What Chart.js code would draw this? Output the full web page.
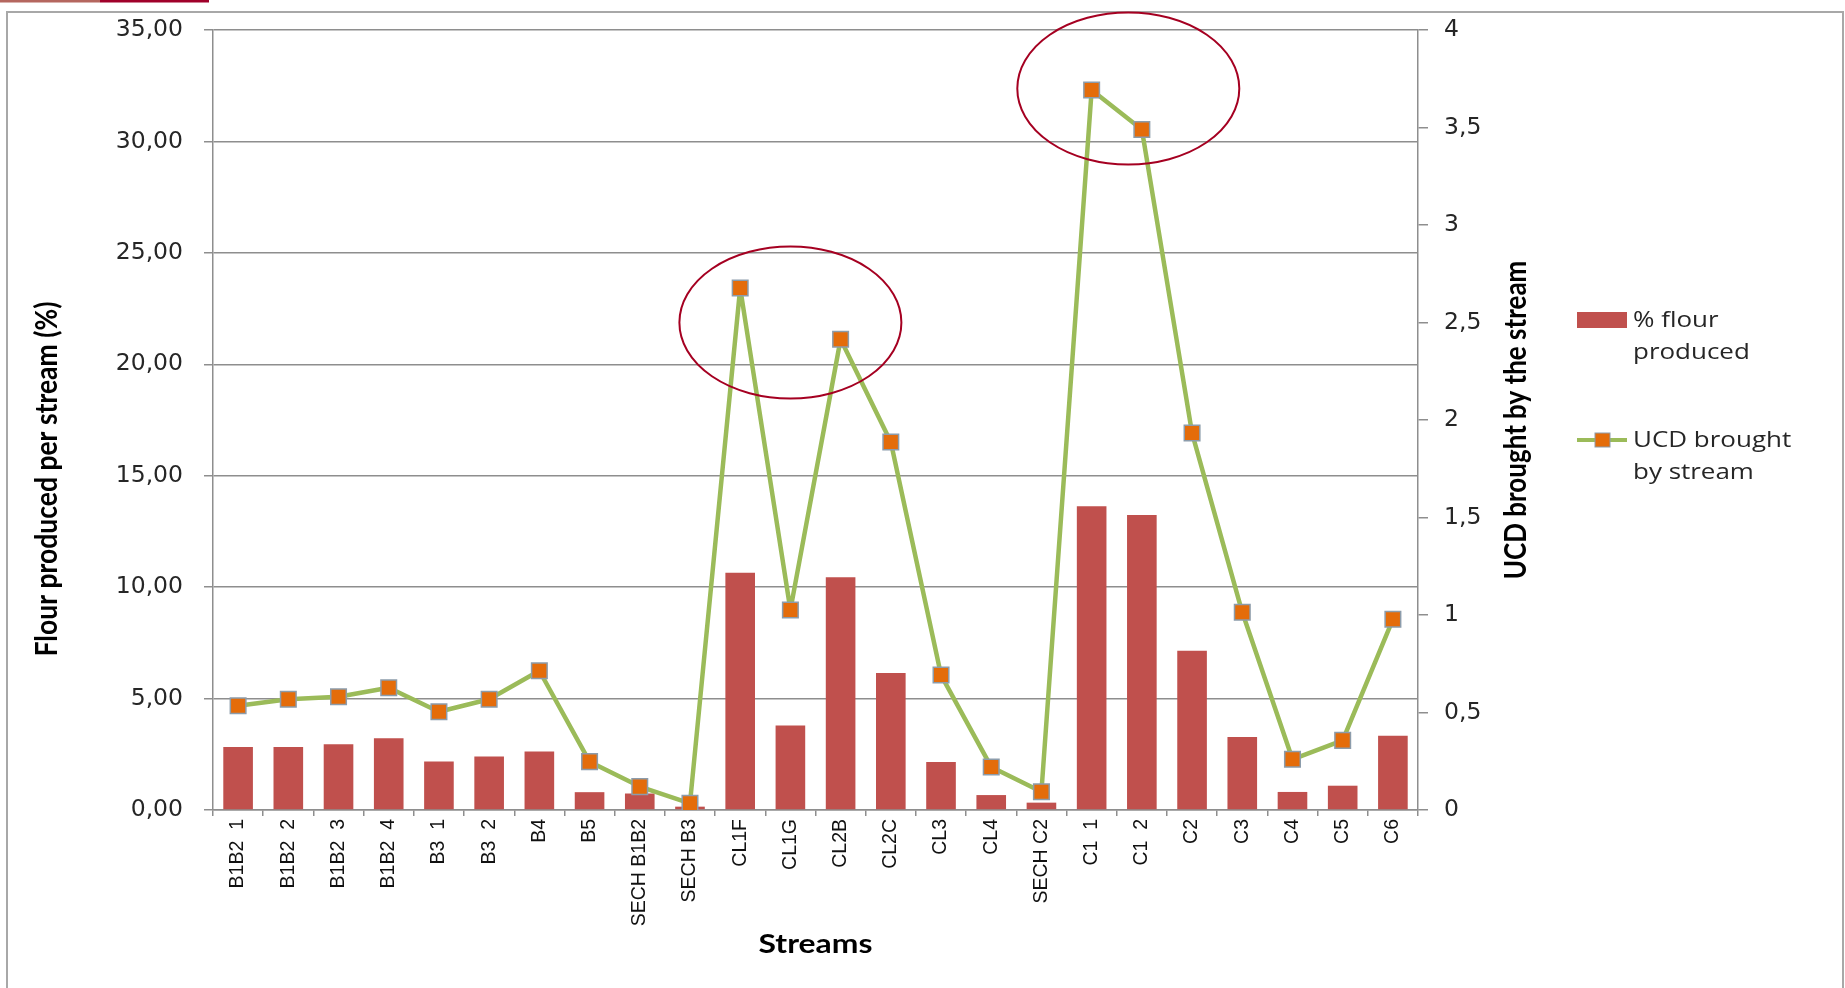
<!DOCTYPE html>
<html>
<head>
<meta charset="utf-8">
<title>Flour and UCD per stream</title>
<script src="https://cdn.jsdelivr.net/npm/chart.js@4.4.1/dist/chart.umd.min.js"></script>
<style>
  html, body { margin: 0; padding: 0; background: #ffffff; }
  canvas { display: block; }
</style>
</head>
<body>
<canvas id="chart" width="1845" height="988"></canvas>
<script>
// Mill streams along the x axis
const streams = [
  'B1B2  1', 'B1B2  2', 'B1B2  3', 'B1B2  4', 'B3  1', 'B3  2', 'B4', 'B5',
  'SECH B1B2', 'SECH B3', 'CL1F', 'CL1G', 'CL2B', 'CL2C', 'CL3', 'CL4',
  'SECH C2', 'C1  1', 'C1  2', 'C2', 'C3', 'C4', 'C5', 'C6'
];

// Share of the total flour produced by each stream (%), left axis
const flourProduced = [
  2.83, 2.83, 2.95, 3.22, 2.18, 2.40, 2.62, 0.80,
  0.74, 0.15, 10.65, 3.79, 10.44, 6.15, 2.15, 0.67,
  0.33, 13.63, 13.24, 7.15, 3.28, 0.81, 1.09, 3.33
];

// UCD brought by each stream, right axis
const ucdBrought = [
  0.535, 0.568, 0.581, 0.627, 0.504, 0.568, 0.714, 0.248,
  0.120, 0.034, 2.677, 1.026, 2.414, 1.887, 0.692, 0.221,
  0.094, 3.692, 3.490, 1.933, 1.014, 0.260, 0.357, 0.978
];

// Tick labels of both value axes
const flourTickLabels = ['0,00', '5,00', '10,00', '15,00', '20,00', '25,00', '30,00', '35,00'];
const ucdTickLabels = ['0', '0,5', '1', '1,5', '2', '2,5', '3', '3,5', '4'];

// Series names and axis titles
const flourLabel = '% flour\nproduced';
const ucdLabel = 'UCD brought\nby stream';
const flourAxisTitle = 'Flour produced per stream (%)';
const ucdAxisTitle = 'UCD brought by the stream';
const streamAxisTitle = 'Streams';

// Highlight rings: centred on a stream index (fractional = between streams) and a UCD value
const highlightCentres = [11, 17.73];
const highlightUcd = [2.5, 3.7];

const BAR_RED = '#C0504D';
const LINE_GREEN = '#9BBB59';
const MARKER_ORANGE = '#E46C0A';
const MARKER_EDGE = '#8C9CAB';
const GRID_GREY = '#8E8E8E';
const RING_RED = '#A50021';
const TEXT_DARK = '#262626';
const TEXT_STRETCH = 1.18;   // wide-set lettering for horizontal captions

function wideText(c, text, x, y, align) {
  c.save();
  c.translate(x, y);
  c.scale(TEXT_STRETCH, 1);
  c.textAlign = align;
  c.fillText(text, 0, 0);
  c.restore();
}

const decorations = {
  id: 'decorations',
  beforeDraw(chart) {
    const c = chart.ctx;
    c.save();
    c.fillStyle = '#ffffff';
    c.fillRect(0, 0, chart.width, chart.height);
    // slide ribbon in the top-left corner
    c.fillStyle = '#B5675F';
    c.fillRect(0, 0, 100, 2.5);
    c.fillStyle = '#A0002A';
    c.fillRect(100, 0, 109, 2.5);
    // outer frame
    c.strokeStyle = '#A8A8A8';
    c.lineWidth = 2;
    c.strokeRect(7, 12, 1836, 980);
    c.restore();
  },
  afterDatasetsDraw(chart) {
    const c = chart.ctx;
    const xs = chart.scales.x;
    const ys = chart.scales.y1;
    c.save();
    c.strokeStyle = RING_RED;
    c.lineWidth = 2;
    highlightCentres.forEach((idx, i) => {
      const cx = xs.getPixelForValue(idx);
      const cy = ys.getPixelForValue(highlightUcd[i]);
      c.beginPath();
      c.ellipse(cx, cy, 111, 76, 0, 0, Math.PI * 2);
      c.stroke();
    });
    c.restore();
  },
  afterDraw(chart) {
    const c = chart.ctx;
    const ca = chart.chartArea;
    const bars = chart.data.datasets[1];
    const line = chart.data.datasets[0];
    c.save();
    c.fillStyle = '#000000';
    c.textBaseline = 'middle';

    // left axis title
    c.save();
    c.translate(47, 479);
    c.rotate(-Math.PI / 2);
    c.scale(1, TEXT_STRETCH);
    c.font = 'bold 26.5px Lato';
    c.textAlign = 'center';
    c.fillText(flourAxisTitle, 0, 0);
    c.restore();

    // right axis title
    c.save();
    c.translate(1516, (ca.top + ca.bottom) / 2);
    c.rotate(-Math.PI / 2);
    c.scale(1, TEXT_STRETCH);
    c.font = 'bold 26px Lato';
    c.textAlign = 'center';
    c.fillText(ucdAxisTitle, 0, 0);
    c.restore();

    // category axis title
    c.font = 'bold 27px Lato';
    wideText(c, streamAxisTitle, (ca.left + ca.right) / 2, 944, 'center');

    // legend
    c.font = '22px "Open Sans"';
    c.textBaseline = 'alphabetic';
    c.fillStyle = bars.backgroundColor;
    c.fillRect(1577, 312, 50, 16);
    c.fillStyle = TEXT_DARK;
    bars.label.split('\n').forEach((t, k) => wideText(c, t, 1633, 327 + k * 32, 'left'));

    c.strokeStyle = line.borderColor;
    c.lineWidth = 4;
    c.beginPath();
    c.moveTo(1577, 440);
    c.lineTo(1627, 440);
    c.stroke();
    c.fillStyle = line.pointBackgroundColor;
    c.fillRect(1595, 433, 15, 14);
    c.strokeStyle = line.pointBorderColor;
    c.lineWidth = 1;
    c.strokeRect(1595, 433, 15, 14);
    c.fillStyle = TEXT_DARK;
    line.label.split('\n').forEach((t, k) => wideText(c, t, 1633, 447 + k * 32, 'left'));
    c.restore();
  }
};

// value axes: keep the plot top from growing with the tick-label padding
function trimValueAxis(s, width) {
  s.width = width;
  s.paddingTop = 0;
  s.paddingBottom = 0;
}

new Chart(document.getElementById('chart'), {
  type: 'bar',
  data: {
    labels: streams,
    datasets: [
      {
        type: 'line',
        label: ucdLabel,
        data: ucdBrought,
        yAxisID: 'y1',
        borderColor: LINE_GREEN,
        borderWidth: 4.5,
        borderJoinStyle: 'round',
        borderCapStyle: 'round',
        tension: 0,
        fill: false,
        pointStyle: 'rect',
        pointRadius: 11,
        pointHoverRadius: 11,
        pointBackgroundColor: MARKER_ORANGE,
        pointBorderColor: MARKER_EDGE,
        pointBorderWidth: 1.5,
        order: 0
      },
      {
        type: 'bar',
        label: flourLabel,
        data: flourProduced,
        yAxisID: 'y',
        backgroundColor: BAR_RED,
        categoryPercentage: 1,
        barPercentage: 0.59,
        order: 1
      }
    ]
  },
  options: {
    responsive: false,
    animation: false,
    devicePixelRatio: 1,
    layout: { padding: { top: 30, left: 0, right: 0, bottom: 0 } },
    plugins: {
      legend: { display: false },
      tooltip: { enabled: false }
    },
    scales: {
      x: {
        offset: true,
        grid: { offset: true, drawOnChartArea: false, tickLength: 6, color: GRID_GREY, lineWidth: 1.5 },
        border: { color: GRID_GREY, width: 1.5 },
        ticks: {
          autoSkip: false,
          minRotation: 90,
          maxRotation: 90,
          padding: 3,
          color: '#111111',
          font: { family: '"Liberation Sans"', size: 19.5 }
        },
        afterFit(s) { s.height = 178; }
      },
      y: {
        position: 'left',
        min: 0,
        max: 35,
        grid: { color: GRID_GREY, lineWidth: 1.5, tickLength: 9 },
        border: { color: GRID_GREY, width: 1.5 },
        ticks: {
          stepSize: 5,
          padding: 21,
          color: TEXT_DARK,
          font: { family: '"DejaVu Sans"', size: 23.5 },
          callback: (v, i) => flourTickLabels[i]
        },
        afterFit(s) { trimValueAxis(s, 213); }
      },
      y1: {
        position: 'right',
        min: 0,
        max: 4,
        grid: { drawOnChartArea: false, color: GRID_GREY, lineWidth: 1.5, tickLength: 10 },
        border: { color: GRID_GREY, width: 1.5 },
        ticks: {
          stepSize: 0.5,
          padding: 16,
          color: TEXT_DARK,
          font: { family: '"DejaVu Sans"', size: 23.5 },
          callback: (v, i) => ucdTickLabels[i]
        },
        afterFit(s) { trimValueAxis(s, 427); }
      }
    }
  },
  plugins: [decorations]
});
</script>
</body>
</html>
